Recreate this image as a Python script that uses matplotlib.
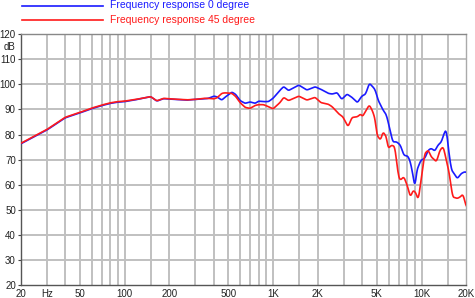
import numpy as np
import matplotlib
matplotlib.use('Agg')
import matplotlib.pyplot as plt

plt.rcParams['font.family'] = ['Liberation Sans', 'DejaVu Sans']

# frequency response 0 degree (Hz, dB)
freq_0 = [20, 30, 33, 35, 40, 50, 60, 70, 80, 90, 100, 120, 150, 165, 183, 203, 263, 300,
          340, 367, 400, 419, 452, 474, 528, 560, 600, 649, 700, 758, 800, 863, 931, 1000,
          1117, 1180, 1271, 1490, 1690, 1920, 2100, 2350, 2500, 2700, 2900, 3150, 3400,
          3700, 3960, 4200, 4450, 4700, 4880, 5100, 5500, 5800, 6100, 6400, 6800, 7200,
          7600, 8100, 8400, 8800, 9000, 9300, 9900, 10500, 11100, 11600, 12300, 12900,
          13600, 14300, 14700, 15300, 15900, 16600, 17400, 18500, 19500, 20000]
db_0 = [76.3, 81.8, 83.5, 84.5, 86.7, 88.6, 90.3, 91.5, 92.4, 92.9, 93.1, 93.9, 95.1, 93.3,
        94.3, 94.1, 93.7, 94.0, 94.2, 94.4, 95.3, 95.0, 93.7, 94.8, 96.9, 96.0, 93.5, 92.4,
        93.0, 92.4, 93.3, 93.1, 93.1, 94.4, 97.7, 99.1, 97.5, 99.7, 97.7, 99.0, 98.0, 96.4,
        96.1, 96.7, 94.0, 96.1, 94.8, 92.7, 95.3, 96.1, 100.4, 99.0, 97.7, 93.7, 89.8, 87.8,
        82.5, 77.1, 77.1, 75.8, 71.8, 71.4, 69.2, 63.2, 58.6, 65.9, 69.8, 70.5, 73.8, 74.5,
        73.5, 75.8, 77.1, 81.1, 81.8, 72.5, 65.9, 64.5, 62.5, 64.5, 65.2, 65.0]

# frequency response 45 degree (Hz, dB)
freq_45 = [20, 30, 33, 35, 40, 50, 60, 70, 80, 90, 100, 120, 150, 165, 183, 203, 263, 300,
           340, 367, 400, 419, 452, 474, 528, 560, 600, 649, 700, 758, 800, 863, 931, 1000,
           1117, 1180, 1271, 1490, 1690, 1920, 2100, 2350, 2500, 2750, 2950, 3200, 3400,
           3700, 3900, 4000, 4250, 4450, 4700, 4880, 5000, 5300, 5500, 5800, 5950, 6300,
           6600, 7000, 7200, 7600, 8000, 8400, 8800, 9200, 9500, 10000, 10500, 11100,
           11600, 12600, 13300, 14000, 14600, 15300, 16200, 17400, 18200, 19000, 20000]
db_45 = [76.5, 82.0, 83.7, 84.7, 86.9, 88.8, 90.5, 91.7, 92.6, 93.1, 93.3, 94.0, 95.1, 93.4,
         94.4, 94.2, 93.8, 94.0, 94.4, 94.4, 94.2, 94.6, 96.4, 96.6, 96.4, 95.2, 92.7, 90.8,
         90.4, 91.6, 91.9, 91.9, 91.1, 90.2, 92.8, 94.8, 93.5, 95.3, 93.7, 94.8, 92.7, 92.1,
         91.1, 88.4, 87.1, 83.1, 86.8, 87.1, 88.2, 87.1, 89.8, 91.8, 89.1, 85.8, 79.8, 77.8,
         81.1, 79.1, 74.5, 75.8, 75.2, 63.2, 61.9, 63.2, 59.9, 55.2, 57.9, 56.6, 53.9, 63.2,
         72.5, 73.8, 71.2, 69.2, 73.8, 75.2, 70.5, 65.2, 55.2, 54.6, 55.2, 56.3, 51.3]

xgrid = [30, 40, 50, 60, 70, 80, 90, 100, 150, 200, 300, 400, 500, 600, 700, 800, 900,
         1000, 1500, 2000, 3000, 4000, 5000, 6000, 7000, 8000, 9000, 10000, 15000]
xticks = [20, 30, 50, 100, 200, 500, 1000, 2000, 5000, 10000, 20000]
xlabels = ['20', 'Hz', '50', '100', '200', '500', '1K', '2K', '5K', '10K', '20K']
yticks = [20, 30, 40, 50, 60, 70, 80, 90, 100, 110, 120]

fig = plt.figure(figsize=(4.75, 2.98), dpi=100)
ax = fig.add_axes([0.0436, 0.042, 0.938, 0.844])

# light smoothing of the traced points on a log-frequency axis
def smooth(f, d):
    lf = np.log10(f)
    xs = np.linspace(lf[0], lf[-1], 900)
    ys = np.interp(xs, lf, d)
    k = np.ones(5) / 5
    ys2 = np.convolve(np.pad(ys, 2, mode='edge'), k, mode='valid')
    return 10 ** xs, ys2

fx, fy = smooth(freq_0, db_0)
ax.plot(fx, fy, color='#1a1aff', lw=1.2, zorder=3)
fx, fy = smooth(freq_45, db_45)
ax.plot(fx, fy, color='#ff1a1a', lw=1.2, zorder=4)

ax.set_xscale('log')
ax.set_xlim(20, 20000)
ax.set_ylim(20, 120)

for f in xgrid:
    ax.axvline(f, color='#c0c0c0', lw=1.4, zorder=1)
for v in yticks[1:-1]:
    ax.axhline(v, color='#c0c0c0', lw=1.4, zorder=1)

ax.xaxis.set_minor_locator(matplotlib.ticker.NullLocator())
ax.set_xticks(xticks)
ax.set_xticklabels(xlabels)
ax.set_yticks(yticks)
ax.set_yticklabels([str(v) for v in yticks])
ax.tick_params(axis='both', labelsize=7, colors='#444444', labelcolor='#222222',
               length=2.5, width=0.8, pad=1)
ax.tick_params(axis='x', length=0, pad=2.5)
ax.text(-0.012, 115, 'dB', transform=ax.get_yaxis_transform(), ha='right', va='center',
        fontsize=7, color='#222222')

ax.spines['left'].set_color('#555555')
ax.spines['bottom'].set_color('#555555')
ax.spines['top'].set_color('#888888')
ax.spines['right'].set_color('#aaaaaa')
for s in ax.spines.values():
    s.set_linewidth(1.0)

# legend drawn at the top
fig.add_artist(plt.Line2D([22 / 475, 103 / 475], [1 - 5.5 / 298] * 2, color='#1a1aff', lw=1.2))
fig.text(110 / 475, 1 - 5.5 / 298, 'Frequency response 0 degree', color='#1a1aff',
         fontsize=7.5, va='center', ha='left')
fig.add_artist(plt.Line2D([22 / 475, 103 / 475], [1 - 20 / 298] * 2, color='#ff1a1a', lw=1.2))
fig.text(110 / 475, 1 - 20 / 298, 'Frequency response 45 degree', color='#ff1a1a',
         fontsize=7.5, va='center', ha='left')

fig.savefig('out.png', dpi=100)
